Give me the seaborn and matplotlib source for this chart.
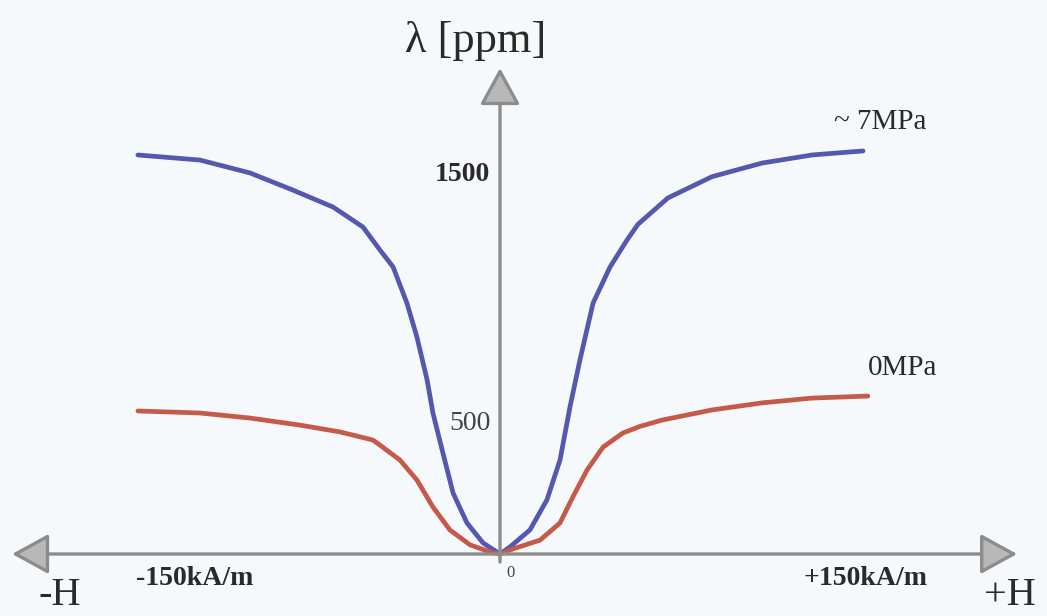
import numpy as np
import pandas as pd
import matplotlib.pyplot as plt
import seaborn as sns

# magnetostriction curves (H in kA/m, lambda in ppm)
h_7mpa = [-149, -123.5, -102.9, -85.2, -68.7, -56.4, -49.4, -44.0, -38.3, -34.2, -30.0, -27.6,
          -23.5, -19.3, -13.6, -7.0, 0, 4.1, 12.3, 19.3, 24.7, 28.8, 32.9, 38.3, 45.3, 52.3,
          56.8, 69.1, 87.2, 107.8, 128.4, 149.4]
lam_7mpa = [1579, 1559, 1508, 1440, 1373, 1294, 1203, 1136, 993, 859, 689, 558,
            400, 241, 123, 44, 0, 28, 95, 214, 372, 582, 768, 993, 1136, 1243,
            1305, 1409, 1493, 1547, 1579, 1595]

h_0mpa = [-149, -123.5, -102.9, -82.3, -65.8, -52.3, -49.4, -41.2, -34.2, -27.6, -20.6, -12.3,
          -4.1, 0, 5.3, 16.5, 24.7, 30.0, 35.8, 42.4, 50.6, 57.6, 66.7, 87.2, 107.8, 128.4, 151.4]
lam_0mpa = [566, 558, 538, 510, 483, 451, 431, 372, 293, 186, 95, 36,
            8, 0, 20, 55, 123, 226, 332, 423, 479, 505, 530, 570, 598, 617, 625]

series_names = ["~ 7MPa", "0MPa"]
y_ticks = [500, 1500]

df = pd.DataFrame({
    "H": h_7mpa + h_0mpa,
    "lam": lam_7mpa + lam_0mpa,
    "stress": [series_names[0]] * len(h_7mpa) + [series_names[1]] * len(h_0mpa),
})

sns.set_style("white")
plt.rcParams["font.family"] = ["Liberation Serif", "DejaVu Serif"]

bg = "#f6f9fb"
fig = plt.figure(figsize=(10.47, 6.16), dpi=100, facecolor=bg)
ax = fig.add_axes([0, 0, 1, 1], facecolor=bg)

# pixel mapping: origin at (500, 554), 2.43 px per kA/m, 0.2527 px per ppm
ax.set_xlim(-500 / 2.43, 547 / 2.43)
ax.set_ylim(-62 / 0.2527, 554 / 0.2527)

axis_col = "#8c8c8c"
ax.annotate("", xy=(-200.8, 0), xytext=(212.8, 0),
            arrowprops=dict(arrowstyle="<|-|>,head_length=1.15,head_width=0.63",
                            mutation_scale=20, lw=2.4, ec=axis_col, fc="#b8b8b8",
                            shrinkA=0, shrinkB=0))
ax.annotate("", xy=(0, 1923), xytext=(0, -32),
            arrowprops=dict(arrowstyle="-|>,head_length=1.15,head_width=0.63",
                            mutation_scale=20, lw=2.4, ec=axis_col, fc="#b8b8b8",
                            shrinkA=0, shrinkB=0))

sns.lineplot(data=df, x="H", y="lam", hue="stress", palette=["#5458ae", "#c65a48"],
             linewidth=3.4, legend=False, ax=ax)

ax.set_axis_off()

txt = "#2a2a2a"
ax.text(-4, y_ticks[1], "1500", ha="right", va="center", fontsize=20, fontweight="bold", color=txt)
ax.text(-4, y_ticks[0] + 18, "500", ha="right", va="center", fontsize=20, color="#444444")
ax.text(2.5, -75, "0", ha="left", va="center", fontsize=12, color="#444444")

ax.text(-10, 2030, "λ [ppm]", ha="center", va="center", fontsize=32, color=txt)
ax.text(-125.5, -95, "-150kA/m", ha="center", va="center", fontsize=20, fontweight="bold", color=txt)
ax.text(150.6, -95, "+150kA/m", ha="center", va="center", fontsize=20, fontweight="bold", color=txt)
ax.text(-181, -236, "-H", ha="center", va="bottom", fontsize=29, color=txt)
ax.text(210, -236, "+H", ha="center", va="bottom", fontsize=29, color=txt)
ax.text(156.4, 1709, series_names[0], ha="center", va="center", fontsize=21, color=txt)
ax.text(165.8, 736, series_names[1], ha="center", va="center", fontsize=21, color=txt)

fig.savefig("out.png", dpi=100, facecolor=bg)
